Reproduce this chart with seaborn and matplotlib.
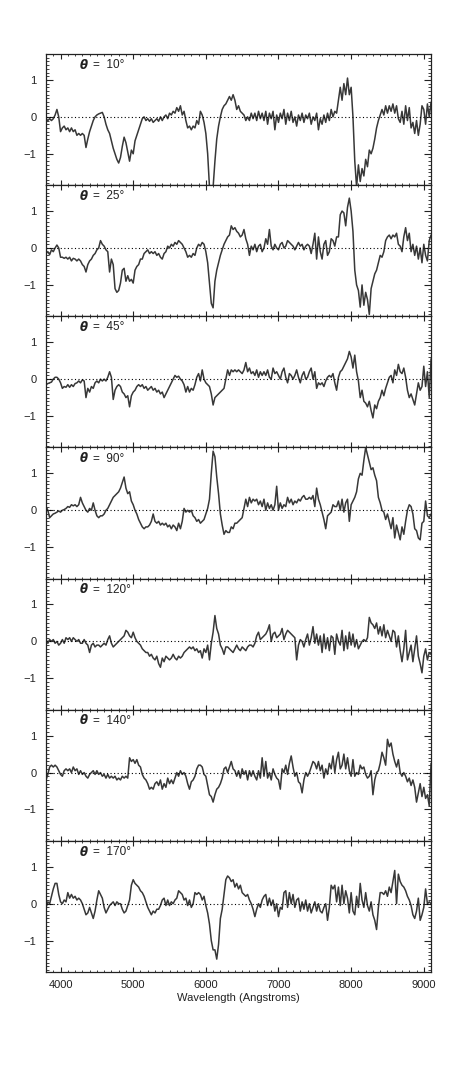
import numpy as np
import pandas as pd
import matplotlib
matplotlib.use("Agg")
import matplotlib.pyplot as plt
from matplotlib.ticker import MultipleLocator
import seaborn as sns

# Wavelength grid (Angstroms), 25 A spacing
WAVELENGTH = np.arange(3800, 9101, 25)

ANGLES = [10, 25, 45, 90, 120, 140, 170]

DIFF_10 = [
    -0.05, -0.1, -0.05, -0.1, -0.05, 0.05, 0.2, 0.0, -0.4, -0.3, -0.25, -0.35, -0.3, -0.4, -0.3, -0.4, -0.35, -0.5, -0.45, -0.5,
    -0.45, -0.5, -0.83, -0.6, -0.4, -0.25, -0.1, 0.0, 0.05, 0.08, 0.1, 0.12, 0.0, -0.2, -0.35, -0.45, -0.65, -0.85, -1.0, -1.15,
    -1.25, -1.1, -0.8, -0.55, -0.7, -0.95, -1.2, -0.9, -1.0, -0.65, -0.5, -0.35, -0.2, -0.05, 0.0, -0.1, -0.05, -0.12, -0.05, -0.15,
    -0.1, -0.05, -0.12, 0.0, -0.1, 0.0, 0.05, -0.05, 0.1, 0.05, 0.15, 0.1, 0.25, 0.15, 0.3, 0.05, 0.15, -0.1, -0.3, -0.25,
    -0.35, -0.25, -0.3, -0.1, -0.2, 0.15, 0.05, -0.15, -0.45, -1.0, -1.9, -1.9, -1.9, -1.2, -0.6, -0.25, 0.0, 0.2, 0.3, 0.35,
    0.45, 0.55, 0.45, 0.6, 0.45, 0.2, 0.3, 0.15, 0.1, 0.05, -0.1, 0.0, -0.1, 0.1, -0.05, 0.1, -0.1, 0.15, -0.05, 0.1,
    -0.1, 0.15, -0.2, 0.1, -0.05, 0.15, -0.35, 0.05, -0.15, 0.1, -0.05, 0.2, -0.2, 0.1, -0.1, 0.15, -0.15, 0.0, -0.25, 0.05,
    -0.1, 0.1, -0.15, 0.05, -0.05, 0.1, -0.2, 0.0, -0.1, 0.1, -0.35, -0.05, -0.2, 0.05, -0.15, 0.1, -0.1, 0.2, 0.0, 0.15,
    0.1, 0.45, 0.8, 0.45, 0.9, 0.6, 1.05, 0.6, 0.8, 0.0, -1.2, -1.9, -1.3, -1.75, -1.4, -1.6, -1.15, -1.35, -0.9, -1.0,
    -0.85, -0.6, -0.3, -0.1, 0.05, 0.2, 0.05, 0.3, 0.1, 0.3, 0.15, 0.35, 0.1, 0.3, -0.05, -0.15, 0.15, -0.2, 0.3, -0.1,
    0.25, -0.3, -0.15, -0.45, -0.1, -0.5, -0.2, 0.3, 0.2, -0.2, 0.35, 0.0, 0.4,
]

DIFF_25 = [
    -0.15, -0.1, -0.18, -0.05, -0.1, 0.0, 0.08, 0.0, -0.25, -0.25, -0.28, -0.25, -0.3, -0.25, -0.35, -0.28, -0.3, -0.35, -0.3, -0.35,
    -0.45, -0.5, -0.65, -0.45, -0.35, -0.3, -0.2, -0.15, -0.05, 0.0, 0.2, 0.1, 0.05, -0.05, -0.1, -0.65, -0.3, -0.45, -1.1, -1.2,
    -1.15, -0.95, -0.6, -0.55, -0.9, -0.75, -0.9, -0.85, -0.95, -0.6, -0.5, -0.45, -0.3, -0.3, -0.15, -0.1, -0.05, -0.15, -0.1, -0.15,
    -0.1, -0.2, -0.15, -0.25, -0.3, -0.15, -0.1, 0.05, 0.0, 0.1, 0.05, 0.15, 0.1, 0.2, 0.15, 0.1, 0.0, -0.1, -0.25, -0.2,
    -0.25, -0.15, -0.2, 0.0, 0.1, 0.05, 0.15, 0.1, -0.1, -0.4, -0.95, -1.5, -1.62, -0.9, -0.6, -0.4, -0.2, -0.05, 0.1, 0.2,
    0.3, 0.35, 0.6, 0.5, 0.55, 0.45, 0.4, 0.3, 0.35, 0.5, 0.25, 0.1, -0.2, 0.05, -0.05, 0.1, -0.1, 0.05, 0.1, -0.1,
    0.0, 0.25, 0.1, 0.5, 0.05, -0.05, 0.1, 0.0, -0.05, 0.1, 0.15, 0.0, 0.05, 0.2, 0.15, 0.1, 0.05, -0.05, 0.05, 0.15,
    0.05, 0.1, -0.05, 0.05, 0.1, 0.05, -0.15, 0.1, 0.4, -0.3, 0.3, -0.1, -0.3, 0.1, 0.2, -0.2, -0.1, 0.25, 0.2, 0.05,
    0.3, 0.3, 0.9, 1.0, 0.95, 0.6, 1.1, 1.35, 1.0, 0.45, -0.6, -1.0, -1.15, -1.6, -1.0, -1.55, -1.2, -1.4, -1.8, -1.1,
    -0.9, -0.7, -0.6, -0.4, -0.2, -0.25, -0.1, 0.2, 0.3, 0.35, 0.25, 0.35, 0.3, 0.4, 0.1, 0.05, -0.1, 0.3, 0.55, 0.2,
    0.4, -0.1, 0.1, -0.2, 0.05, -0.3, 0.0, -0.4, 0.1, -0.2, -0.35, 0.2, 0.35,
]

DIFF_45 = [
    -0.15, -0.12, -0.1, -0.08, 0.0, 0.05, 0.05, 0.0, -0.1, -0.25, -0.2, -0.22, -0.15, -0.22, -0.15, -0.2, -0.12, -0.1, -0.05, -0.1,
    -0.02, -0.05, -0.5, -0.25, -0.35, -0.2, -0.25, -0.1, -0.05, -0.1, 0.0, -0.05, 0.0, -0.05, 0.05, 0.2, 0.05, -0.55, -0.3, -0.2,
    -0.15, -0.2, -0.35, -0.4, -0.5, -0.45, -0.75, -0.45, -0.35, -0.3, -0.2, -0.15, -0.2, -0.15, -0.25, -0.2, -0.3, -0.25, -0.2, -0.3,
    -0.25, -0.35, -0.3, -0.4, -0.35, -0.5, -0.4, -0.3, -0.2, -0.1, 0.0, 0.1, 0.05, 0.08, 0.0, -0.05, -0.15, -0.35, -0.2, -0.35,
    -0.25, -0.3, -0.15, 0.05, 0.15, -0.05, 0.25, 0.0, -0.1, -0.15, -0.2, -0.4, -0.7, -0.5, -0.45, -0.4, -0.35, -0.3, -0.25, 0.0,
    0.25, 0.1, 0.25, 0.2, 0.25, 0.2, 0.25, 0.2, 0.15, 0.25, 0.45, 0.2, 0.3, 0.15, 0.2, 0.1, 0.25, 0.05, 0.2, 0.1,
    0.2, 0.1, 0.25, 0.05, 0.0, 0.3, 0.15, 0.2, 0.1, 0.0, 0.2, 0.3, 0.05, -0.1, 0.15, 0.1, 0.0, 0.1, 0.25, 0.05,
    -0.1, 0.1, 0.2, 0.0, 0.05, 0.2, 0.3, 0.0, 0.2, -0.25, -0.1, -0.15, -0.1, -0.2, -0.05, 0.05, 0.1, 0.05, 0.15, -0.1,
    -0.3, 0.05, 0.2, 0.25, 0.35, 0.45, 0.55, 0.75, 0.6, 0.3, 0.65, 0.2, -0.05, -0.5, -0.3, -0.6, -0.65, -0.75, -0.6, -0.85,
    -1.05, -0.7, -0.8, -0.6, -0.5, -0.3, -0.45, -0.25, -0.1, 0.05, 0.1, -0.1, 0.25, 0.1, 0.4, 0.2, 0.15, 0.3, 0.05, -0.3,
    -0.5, -0.4, -0.55, -0.7, -0.4, -0.1, -0.3, -0.2, 0.35, -0.2, 0.2, -0.5, 0.55,
]

DIFF_90 = [
    0.1, 0.0, -0.2, -0.15, -0.1, -0.08, -0.05, -0.02, -0.05, 0.0, 0.02, 0.05, 0.1, 0.08, 0.15, 0.12, 0.15, 0.1, 0.15, 0.35,
    0.2, 0.1, 0.0, -0.05, 0.05, 0.0, 0.2, 0.0, -0.15, -0.2, -0.15, -0.15, -0.1, 0.0, 0.05, 0.15, 0.25, 0.35, 0.4, 0.45,
    0.5, 0.6, 0.75, 0.9, 0.6, 0.45, 0.5, 0.25, 0.15, 0.0, -0.1, -0.25, -0.35, -0.45, -0.5, -0.45, -0.45, -0.4, -0.3, -0.1,
    -0.3, -0.35, -0.3, -0.4, -0.35, -0.4, -0.35, -0.45, -0.4, -0.5, -0.4, -0.45, -0.55, -0.35, -0.5, -0.3, 0.05, -0.05, 0.0, -0.05,
    0.0, -0.15, -0.2, -0.3, -0.25, -0.35, -0.3, -0.25, -0.1, 0.05, 0.3, 1.0, 1.6, 1.45, 0.9, 0.45, -0.1, -0.4, -0.65, -0.55,
    -0.6, -0.6, -0.45, -0.5, -0.35, -0.35, -0.3, -0.25, -0.2, 0.05, 0.3, 0.1, 0.35, 0.2, 0.3, 0.25, 0.3, 0.15, 0.25, 0.1,
    0.3, 0.0, 0.2, 0.05, 0.15, 0.0, 0.15, 0.65, 0.0, 0.2, 0.05, 0.15, 0.1, 0.35, 0.2, 0.3, 0.15, 0.25, 0.2, 0.3,
    0.25, 0.35, 0.4, 0.3, 0.3, 0.35, 0.3, 0.4, 0.1, 0.6, 0.3, 0.15, -0.05, -0.25, -0.5, -0.15, -0.1, -0.05, 0.15, 0.1,
    0.1, 0.25, 0.0, 0.3, -0.05, 0.2, 0.3, -0.3, 0.15, 0.25, 0.35, 0.5, 0.85, 1.0, 0.95, 1.35, 1.7, 1.5, 1.3, 1.1,
    1.15, 0.95, 0.8, 0.35, 0.2, 0.0, -0.05, -0.25, -0.1, -0.3, -0.5, -0.2, -0.75, -0.4, -0.6, -0.8, -0.45, -0.65, -0.3, 0.0,
    0.15, 0.1, -0.1, -0.5, -0.55, -0.75, -0.8, -0.35, -0.3, 0.25, -0.15, -0.2, -0.1,
]

DIFF_120 = [
    0.05, -0.05, 0.05, 0.0, 0.05, -0.05, 0.0, -0.1, -0.05, 0.05, -0.05, 0.1, 0.05, 0.1, 0.0, 0.1, 0.05, 0.0, 0.05, -0.05,
    -0.05, 0.05, -0.05, -0.1, -0.3, -0.1, -0.05, -0.15, -0.1, -0.1, -0.15, -0.1, -0.05, -0.1, 0.05, 0.15, -0.05, -0.15, -0.1, -0.05,
    0.0, 0.05, 0.1, 0.15, 0.3, 0.25, 0.15, 0.1, 0.25, 0.1, 0.0, -0.05, -0.1, -0.2, -0.25, -0.3, -0.3, -0.4, -0.35, -0.45,
    -0.5, -0.4, -0.6, -0.7, -0.45, -0.55, -0.4, -0.45, -0.5, -0.45, -0.35, -0.45, -0.5, -0.4, -0.45, -0.4, -0.3, -0.25, -0.2, -0.15,
    -0.2, -0.15, -0.25, -0.2, -0.3, -0.25, -0.45, -0.2, -0.3, -0.1, -0.5, -0.05, 0.25, 0.7, 0.35, 0.2, -0.1, -0.2, -0.35, -0.15,
    -0.15, -0.2, -0.25, -0.3, -0.2, -0.1, -0.2, -0.25, -0.15, -0.2, -0.25, -0.15, -0.1, -0.1, -0.15, -0.05, 0.15, 0.25, 0.05, 0.1,
    0.15, 0.2, 0.3, 0.45, 0.0, 0.2, 0.25, 0.1, 0.15, 0.2, 0.35, 0.05, 0.2, 0.3, 0.25, 0.2, 0.15, 0.1, -0.5, -0.1,
    0.05, 0.0, -0.15, 0.05, 0.2, -0.1, 0.1, 0.4, -0.05, 0.2, -0.1, 0.15, -0.3, 0.2, -0.2, 0.1, -0.25, 0.15, 0.1, -0.35,
    0.2, 0.0, -0.1, 0.3, -0.25, 0.15, -0.2, 0.25, -0.1, 0.2, -0.15, 0.05, -0.2, -0.1, 0.0, 0.05, 0.0, 0.1, 0.65, 0.5,
    0.45, 0.35, 0.5, 0.2, 0.4, 0.15, 0.45, 0.1, 0.3, 0.15, 0.0, 0.3, 0.25, -0.15, 0.15, -0.25, -0.55, -0.2, 0.3, -0.5,
    -0.3, -0.1, -0.55, -0.2, 0.15, -0.4, -0.6, -0.85, -0.4, -0.2, -0.5, -0.3, -0.35,
]

DIFF_140 = [
    -0.2, -0.05, 0.15, 0.2, 0.15, 0.2, 0.15, 0.05, -0.05, -0.1, 0.05, 0.1, 0.05, 0.1, 0.0, 0.15, 0.05, 0.1, -0.05, 0.05,
    -0.05, 0.0, -0.1, -0.15, -0.05, 0.0, 0.05, -0.05, 0.05, -0.05, 0.0, -0.1, -0.05, -0.15, -0.05, -0.15, -0.1, -0.15, -0.1, -0.2,
    -0.15, -0.2, -0.1, -0.15, -0.1, -0.15, 0.4, 0.3, 0.35, 0.25, 0.35, 0.2, 0.15, -0.05, -0.15, -0.2, -0.3, -0.45, -0.4, -0.45,
    -0.3, -0.25, -0.35, -0.2, -0.45, -0.3, -0.4, -0.15, -0.3, -0.2, -0.3, -0.15, 0.0, -0.1, 0.05, -0.05, 0.0, -0.1, -0.3, -0.45,
    -0.25, -0.2, -0.1, 0.1, 0.2, 0.2, 0.15, -0.05, -0.1, -0.35, -0.6, -0.65, -0.8, -0.6, -0.45, -0.4, -0.3, -0.15, 0.1, 0.15,
    0.0, 0.15, 0.3, 0.1, 0.05, -0.1, 0.05, -0.15, 0.1, -0.05, 0.05, -0.2, 0.05, -0.1, 0.05, -0.1, -0.2, 0.05, -0.15, 0.4,
    -0.1, 0.3, -0.15, 0.0, -0.2, 0.1, -0.05, -0.15, -0.2, -0.45, 0.1, 0.0, 0.2, -0.05, 0.25, 0.45, 0.15, -0.1, 0.0, -0.25,
    -0.3, -0.55, -0.2, 0.0, -0.1, 0.0, 0.15, 0.3, 0.25, 0.1, 0.3, 0.05, 0.2, -0.15, 0.1, -0.05, 0.25, 0.1, 0.45, 0.0,
    0.35, 0.55, 0.1, 0.2, 0.5, 0.1, 0.4, 0.05, -0.1, 0.35, -0.1, 0.0, -0.05, 0.2, 0.1, 0.15, -0.05, -0.15, -0.1, 0.05,
    -0.6, -0.2, 0.0, 0.05, 0.25, 0.55, 0.4, 0.2, 0.9, 0.7, 0.8, 0.5, 0.3, 0.15, 0.35, 0.0, -0.1, 0.0, -0.1, -0.25,
    -0.15, -0.35, -0.2, -0.4, -0.8, -0.55, -0.3, -0.65, -0.4, -0.7, -0.6, -0.9, 0.25,
]

DIFF_170 = [
    -0.1, 0.05, 0.0, 0.2, 0.4, 0.55, 0.55, 0.25, 0.05, 0.0, 0.1, 0.05, 0.3, 0.15, 0.25, 0.15, 0.2, 0.1, 0.15, 0.1,
    0.0, -0.15, -0.3, -0.25, -0.1, -0.25, -0.4, -0.2, 0.1, 0.35, 0.25, 0.15, -0.1, -0.25, -0.15, -0.05, 0.0, 0.05, -0.05, 0.05,
    0.0, 0.0, -0.15, -0.25, -0.2, -0.05, 0.1, 0.5, 0.65, 0.55, 0.5, 0.45, 0.35, 0.3, 0.2, 0.05, -0.1, -0.2, -0.3, -0.2,
    -0.25, -0.15, -0.15, -0.05, 0.1, 0.15, -0.05, 0.1, -0.05, 0.05, 0.0, 0.1, 0.15, 0.35, 0.3, 0.25, 0.1, 0.15, -0.05, 0.1,
    -0.1, 0.0, 0.3, 0.25, 0.3, 0.25, 0.1, 0.2, -0.05, -0.25, -0.55, -1.0, -1.25, -1.25, -1.5, -1.1, -0.4, -0.15, 0.25, 0.65,
    0.75, 0.7, 0.6, 0.65, 0.45, 0.55, 0.4, 0.5, 0.3, 0.25, 0.2, 0.25, 0.1, 0.0, -0.15, -0.35, -0.15, 0.0, -0.1, 0.1,
    0.2, 0.25, -0.05, 0.15, -0.05, 0.1, -0.2, 0.0, -0.35, -0.1, -0.15, 0.3, 0.35, -0.1, 0.3, 0.0, 0.25, -0.1, 0.1, 0.15,
    -0.2, 0.05, -0.15, 0.1, -0.2, 0.0, -0.25, -0.1, 0.05, -0.2, 0.0, -0.2, -0.25, -0.1, 0.0, -0.45, -0.1, 0.5, 0.4, 0.5,
    0.05, 0.45, -0.05, 0.5, 0.0, 0.35, 0.15, -0.25, 0.3, -0.2, -0.3, 0.2, -0.1, 0.55, 0.1, -0.1, 0.3, -0.05, -0.2, 0.05,
    -0.3, -0.45, -0.7, -0.1, 0.3, 0.3, 0.25, 0.35, 0.2, 0.45, 0.3, 0.6, 0.9, 0.0, 0.8, 0.6, 0.5, 0.45, 0.35, 0.2,
    0.1, -0.05, -0.3, -0.4, -0.2, 0.15, -0.45, -0.3, -0.1, 0.4, 0.0, 0.05, 0.0,
]

SERIES = [DIFF_10, DIFF_25, DIFF_45, DIFF_90, DIFF_120, DIFF_140, DIFF_170]
for s in SERIES:
    assert len(s) == len(WAVELENGTH), len(s)

sns.set_theme(style="ticks")
plt.rcParams["font.family"] = ["Liberation Sans", "DejaVu Sans"]

fig, axes = plt.subplots(7, 1, figsize=(4.63, 10.81), dpi=100, sharex=True)
fig.subplots_adjust(left=0.0994, right=0.931, top=0.950, bottom=0.1008, hspace=0)

for ax, ang, vals in zip(axes, ANGLES, SERIES):
    df = pd.DataFrame({"wavelength": WAVELENGTH, "diff": vals})
    sns.lineplot(data=df, x="wavelength", y="diff", ax=ax, color="#383838",
                 linewidth=1.1, estimator=None)
    ax.axhline(0, color="black", linestyle=(0, (1, 2.2)), linewidth=0.8)
    ax.set_xlim(3800, 9100)
    ax.set_ylim(-1.85, 1.7)
    ax.set_yticks([-1, 0, 1])
    ax.set_yticklabels(["\u22121", "0", "1"])
    ax.yaxis.set_minor_locator(MultipleLocator(0.1))
    ax.xaxis.set_major_locator(MultipleLocator(1000))
    ax.xaxis.set_minor_locator(MultipleLocator(100))
    ax.tick_params(which="both", direction="in", top=True, right=True,
                   color="#222222", labelsize=8, labelcolor="#222222")
    ax.tick_params(axis="y", which="major", length=5, width=0.8, pad=7)
    ax.tick_params(axis="y", which="minor", length=2, width=0.6)
    ax.tick_params(axis="x", which="major", length=3.5, width=0.8, pad=6)
    ax.tick_params(axis="x", which="minor", length=1.5, width=0.6)
    for sp in ax.spines.values():
        sp.set_linewidth(0.9)
        sp.set_color("#222222")
    ax.set_ylabel("")
    ax.set_xlabel("")
    ax.text(0.088, 0.915, "\u03b8", transform=ax.transAxes, fontsize=8.5,
            fontweight="bold", style="italic", va="center", ha="left",
            color="#222222", family=["DejaVu Sans"])
    ax.text(0.122, 0.915, "=  %d\u00b0" % ang, transform=ax.transAxes,
            fontsize=8.5, va="center", ha="left", color="#222222")

axes[-1].set_xlabel("Wavelength (Angstroms)", fontsize=8, color="#222222", labelpad=2)

fig.savefig("out.png", dpi=100)
